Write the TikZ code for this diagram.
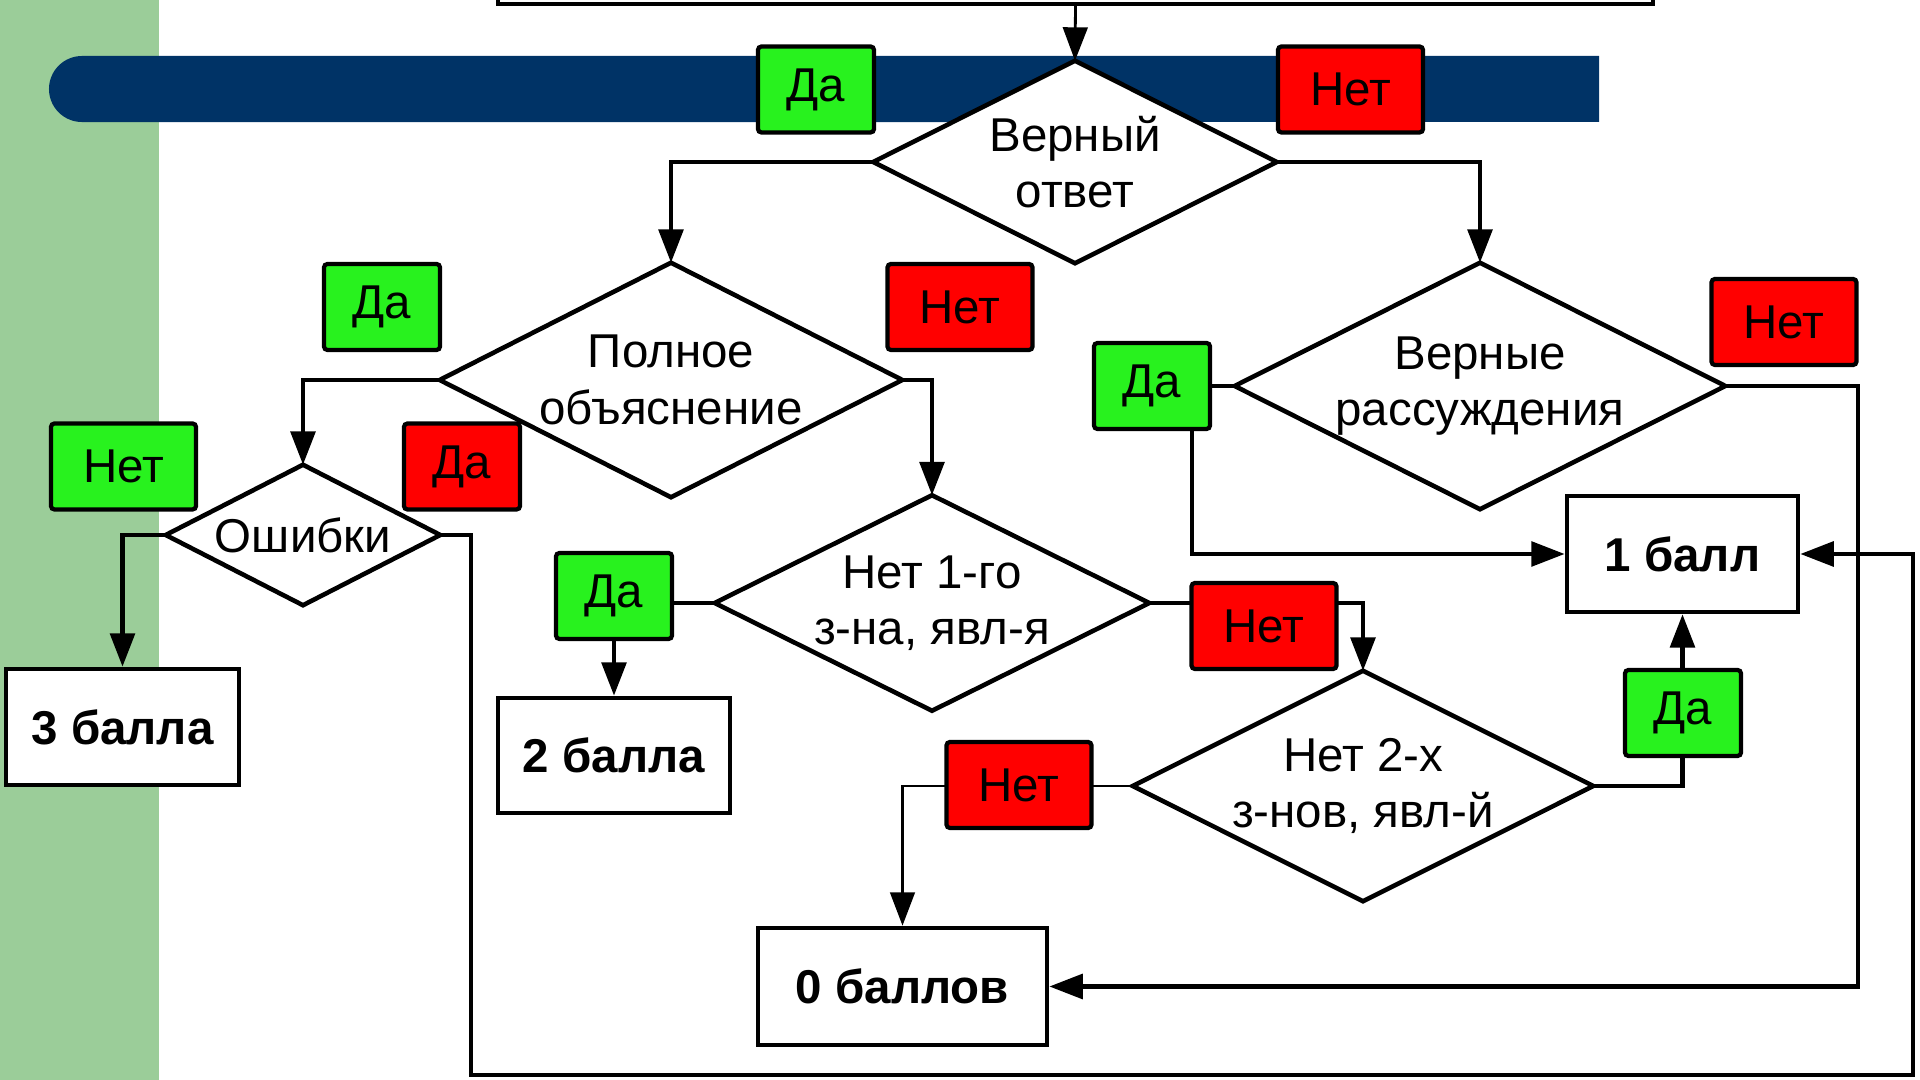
\documentclass[tikz,border=0pt]{standalone}
\usepackage{fontspec}
\setmainfont{Liberation Sans}
\usetikzlibrary{arrows.meta,calc}
\definecolor{navy}{RGB}{0,51,102}
\definecolor{stripe}{RGB}{155,205,153}
\definecolor{grn}{RGB}{40,242,30}
\definecolor{rd}{RGB}{255,0,0}
\pgfdeclarelayer{bg}
\pgfdeclarelayer{mid}
\pgfsetlayers{bg,mid,main}
\begin{document}
\begin{tikzpicture}[x=0.01cm,y=-0.01cm,
  txt/.style={font=\fontsize{13.5}{16}\selectfont},
  dia/.style={shape=rectangle, inner sep=0pt, align=center, txt},
  diaborder/.style={draw, fill=white, line width=1.3pt, line join=miter},
  score/.style={draw, fill=white, line width=1.3pt, inner sep=0pt, font=\bfseries\fontsize{13.5}{16}\selectfont},
  lab/.style={draw, line width=1.2pt, rounded corners=1pt, inner sep=0pt, minimum height=0.86cm, txt},
  wda/.style={lab, minimum width=1.16cm},
  wnet/.style={lab, minimum width=1.45cm},
  conn/.style={line width=1.2pt},
  thinconn/.style={line width=0.8pt},
  arr/.style={-{Triangle[length=9.5pt,width=7pt]}}
]
\useasboundingbox (0,0) rectangle (1920,1080);

% decision nodes (diamond outline drawn through their anchors)
\node[dia, minimum width=4.02cm, minimum height=2.01cm] (d1) at (1075,162) {Верный\\ответ};
\node[dia, minimum width=4.61cm, minimum height=2.33cm] (d2) at (671,380) {Полное\\объяснение};
\node[dia, minimum width=2.73cm, minimum height=1.39cm] (d3) at (303,535) {Ошибки};
\node[dia, minimum width=4.33cm, minimum height=2.14cm] (d4) at (932,603) {Нет 1-го\\з-на, явл-я};
\node[dia, minimum width=4.59cm, minimum height=2.29cm] (d5) at (1363,786) {Нет 2-х\\з-нов, явл-й};
\node[dia, minimum width=4.89cm, minimum height=2.45cm] (d6) at (1480,386) {Верные\\рассуждения};

% top box (partly off the page)
\node[draw, line width=1.2pt, minimum width=11.55cm, minimum height=0.8cm] (top) at (1075.5,-36) {};

% score boxes
\node[score, minimum width=2.33cm, minimum height=1.16cm] (b3) at (122.5,727) {3 балла};
\node[score, minimum width=2.32cm, minimum height=1.15cm] (b2) at (614,755.5) {2 балла};
\node[score, minimum width=2.89cm, minimum height=1.17cm] (b0) at (902.5,986.5) {0 баллов};
\node[score, minimum width=2.31cm, minimum height=1.16cm] (b1) at (1682.5,554) {1 балл};

% labels
\node[wda, fill=grn] (L1) at (816,89.5) {Да};
\node[wnet, fill=rd] (L2) at (1350.5,89.5) {Нет};
\node[wda, fill=grn] (L3) at (382,307) {Да};
\node[wnet, fill=rd] (L4) at (960,307) {Нет};
\node[wnet, fill=grn] (L5) at (123.5,466.5) {Нет};
\node[wda, fill=rd] (L6) at (462,466.5) {Да};
\node[wda, fill=grn] (L7) at (614,596) {Да};
\node[wnet, fill=rd] (L8) at (1264,626) {Нет};
\node[wnet, fill=rd] (L9) at (1019,785) {Нет};
\node[wda, fill=grn] (L10) at (1683,713) {Да};
\node[wda, fill=grn] (L11) at (1152,386) {Да};
\node[wnet, fill=rd] (L12) at (1784,322) {Нет};

\coordinate (cBR) at (1913,1075);

\begin{pgfonlayer}{mid}
  \foreach \n in {d1,d2,d3,d4,d5,d6}
    \path[diaborder] (\n.north) -- (\n.east) -- (\n.south) -- (\n.west) -- cycle;
\end{pgfonlayer}

\begin{pgfonlayer}{bg}
  \fill[stripe] (0,0) rectangle (159,1080);
  \fill[navy] (1599,56) -- (82,56) arc[start angle=90, end angle=270, radius=0.33cm] -- (1599,122) -- cycle;

  \draw[thinconn, arr] (top.south) -- (d1.north);
  \draw[conn, arr] (d1.west) -| (d2.north);
  \draw[conn, arr] (d1.east) -| (d6.north);
  \draw[conn, arr] (d2.west) -| (d3.north);
  \draw[conn, arr] (d2.east) -| (d4.north);
  \draw[conn, arr] (d3.west) -| (b3.north);
  \draw[conn, arr] (d3.east) -- ++(31,0) |- (cBR) |- (b1.east);
  \draw[conn] (d4.west) -- (d4.west -| L7.east);
  \draw[conn, arr] (L7.south) -- (b2.north);
  \draw[conn, arr] (d4.east) -| (d5.north);
  \draw[thinconn, arr] (d5.west) -| (b0.north);
  \draw[conn, arr] (d5.east) -| (b1.south);
  \draw[conn, arr] (d6.west) -- ++(-43,0) |- (b1.west);
  \draw[conn, arr] (d6.east) -- ++(133,0) |- (b0.east);
\end{pgfonlayer}
\end{tikzpicture}
\end{document}
